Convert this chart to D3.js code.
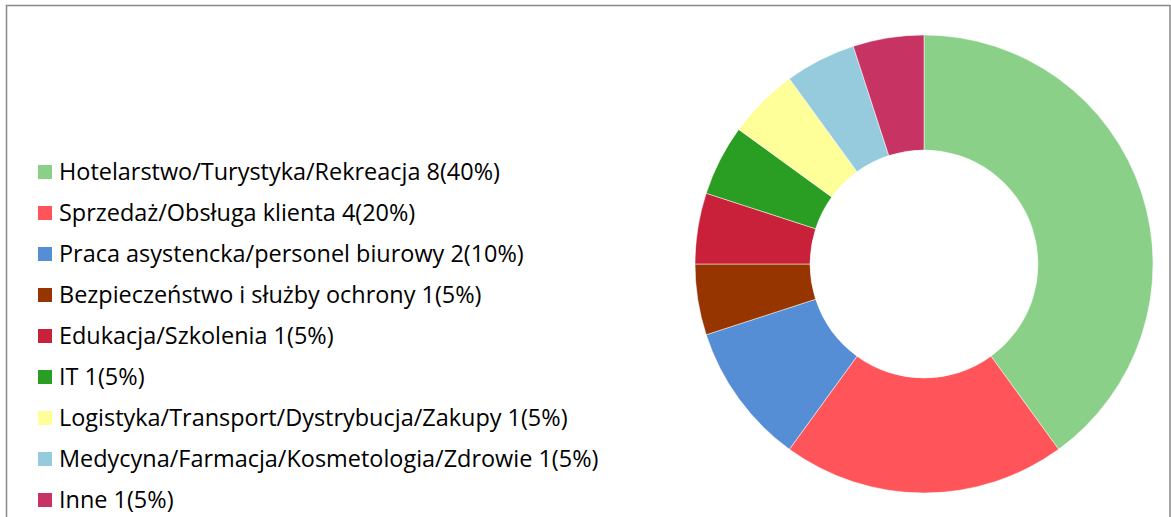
<!DOCTYPE html>
<html lang="pl">
<head>
<meta charset="UTF-8">
<title>Branże</title>
<script src="https://d3js.org/d3.v7.min.js"></script>
<style>
  body { margin: 0; background: #fff; }
  svg { display: block; }
  .legend text { font-family: "Open Sans", sans-serif; font-size: 20px; fill: #000; }
</style>
</head>
<body>
<div id="chart"></div>
<script>
// categories and counts
const categories = [
  "Hotelarstwo/Turystyka/Rekreacja",
  "Sprzedaż/Obsługa klienta",
  "Praca asystencka/personel biurowy",
  "Bezpieczeństwo i służby ochrony",
  "Edukacja/Szkolenia",
  "IT",
  "Logistyka/Transport/Dystrybucja/Zakupy",
  "Medycyna/Farmacja/Kosmetologia/Zdrowie",
  "Inne"
];
const counts = [8, 4, 2, 1, 1, 1, 1, 1, 1];
const percents = ["40%", "20%", "10%", "5%", "5%", "5%", "5%", "5%", "5%"];
const colors = ["#8ad088", "#ff5459", "#558ed5", "#963500", "#c9213a", "#2a9d23", "#ffff99", "#95cbdc", "#c73464"];

const W = 1171, H = 517;
const svg = d3.select("#chart").append("svg").attr("width", W).attr("height", H);

// frame
svg.append("rect")
  .attr("x", 6.5).attr("y", 5.5)
  .attr("width", 1170 - 6.5).attr("height", H + 10)
  .attr("fill", "none").attr("stroke", "#888").attr("stroke-width", 1.5);

const data = categories.map((c, i) => ({ name: c, value: counts[i], pct: percents[i], color: colors[i] }));

const pie = d3.pie().sort(null).value(d => d.value);
const arc = d3.arc().innerRadius(114).outerRadius(229);

const g = svg.append("g").attr("transform", "translate(924,264)");
g.selectAll("path")
  .data(pie(data))
  .join("path")
  .attr("d", arc)
  .attr("fill", d => d.data.color)
  .attr("stroke", "#fff")
  .attr("stroke-width", 0.5);

// legend
const y = d3.scalePoint().domain(categories).range([172, 500]);
const leg = svg.append("g").attr("class", "legend");
const item = leg.selectAll("g")
  .data(data)
  .join("g")
  .attr("transform", d => `translate(38,${y(d.name)})`);
item.append("rect")
  .attr("x", 0).attr("y", -7)
  .attr("width", 14).attr("height", 14)
  .attr("fill", d => d.color);
const labels = item.append("text")
  .attr("x", 21).attr("y", 0)
  .attr("dy", "0.35em")
  .text(d => `${d.name} ${d.value}(${d.pct})`);

// fit font size so the first label is as wide as in the original (~441px)
const w0 = labels.node().getComputedTextLength();
labels.style("font-size", (20 * 441 / w0).toFixed(2) + "px");
</script>
</body>
</html>
